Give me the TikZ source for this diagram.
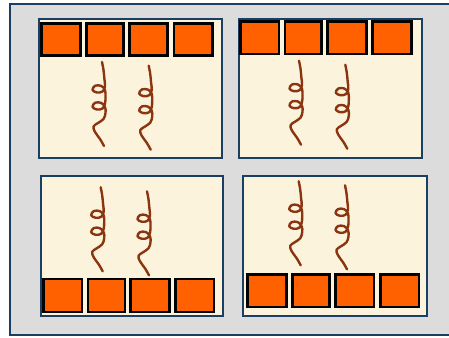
\documentclass[tikz,border=0pt]{standalone}
\definecolor{bggray}{HTML}{DCDCDC}
\definecolor{frameblue}{HTML}{1A3F63}
\definecolor{panelfill}{HTML}{FCF3DC}
\definecolor{sqorange}{HTML}{FF6000}
\definecolor{springbrown}{HTML}{8A3410}
\tikzset{
  outerbox/.style={draw=frameblue, fill=bggray, line width=1pt},
  panelbox/.style={draw=frameblue, fill=panelfill, line width=1.2pt},
  sqbox/.style={draw=black, fill=sqorange, line width=1.8pt},
  springline/.style={draw=springbrown, line width=1.7pt, line cap=round, line join=round},
  spring/.pic={\draw[springline] plot[smooth, tension=0.6] coordinates {
    (0,0) (1.5,8) (2.4,17) (3,24.5) (0.5,29.5) (-5,30.5) (-9.5,28) (-7,23.8) (-1,23.8) (3,28)
    (3.5,35) (3,41.5) (0.5,46.5) (-5,47.5) (-9.5,45) (-7,40.8) (-1,40.8) (3,45)
    (3.5,51) (1.5,57) (-4,61) (-8.5,64.5) (-7,70) (-2,77) (2,84)};}
}
\begin{document}
\begin{tikzpicture}[x=0.25mm, y=-0.25mm]
\useasboundingbox (0,0) rectangle (449,338);
\fill[white] (0,0) rectangle (449,338);
\draw[outerbox] (10,4) rectangle (462,335);
% panels
\draw[panelbox] (38.7,18.7) rectangle (221.7,157.7);
\draw[panelbox] (239.3,18.7) rectangle (422,157.7);
\draw[panelbox] (40.7,176) rectangle (223.3,316);
\draw[panelbox] (243.3,176.3) rectangle (426.7,316);
% squares panel 1
\draw[sqbox] (41.7,23.3) rectangle (80.3,55.7);
\draw[sqbox] (86.3,23.3) rectangle (123.3,55.7);
\draw[sqbox] (129.3,23.3) rectangle (167.7,55.7);
\draw[sqbox] (174,23.3) rectangle (212.3,55.7);
% squares panel 2
\draw[sqbox] (240.7,21.7) rectangle (279,54);
\draw[sqbox] (285,21.7) rectangle (321.7,54);
\draw[sqbox] (327.7,21.7) rectangle (366.7,54);
\draw[sqbox] (372.7,21.7) rectangle (411.7,54);
% squares panel 3
\draw[sqbox] (43.3,279) rectangle (82,312);
\draw[sqbox] (88,279) rectangle (125,312);
\draw[sqbox] (130.7,279) rectangle (169.3,312);
\draw[sqbox] (175.7,279) rectangle (214,312);
% squares panel 4
\draw[sqbox] (247.7,274.7) rectangle (286.7,307);
\draw[sqbox] (292.7,274.7) rectangle (329.7,307);
\draw[sqbox] (335.3,274.7) rectangle (374,307);
\draw[sqbox] (380.3,274.7) rectangle (419,307);
% springs
\pic at (102,62) {spring};
\pic at (148.7,65.7) {spring};
\pic at (299,60.7) {spring};
\pic at (345.3,64.7) {spring};
\pic at (100.7,187.3) {spring};
\pic at (147,191.3) {spring};
\pic at (298.7,181.3) {spring};
\pic at (345,185.3) {spring};
\end{tikzpicture}
\end{document}
